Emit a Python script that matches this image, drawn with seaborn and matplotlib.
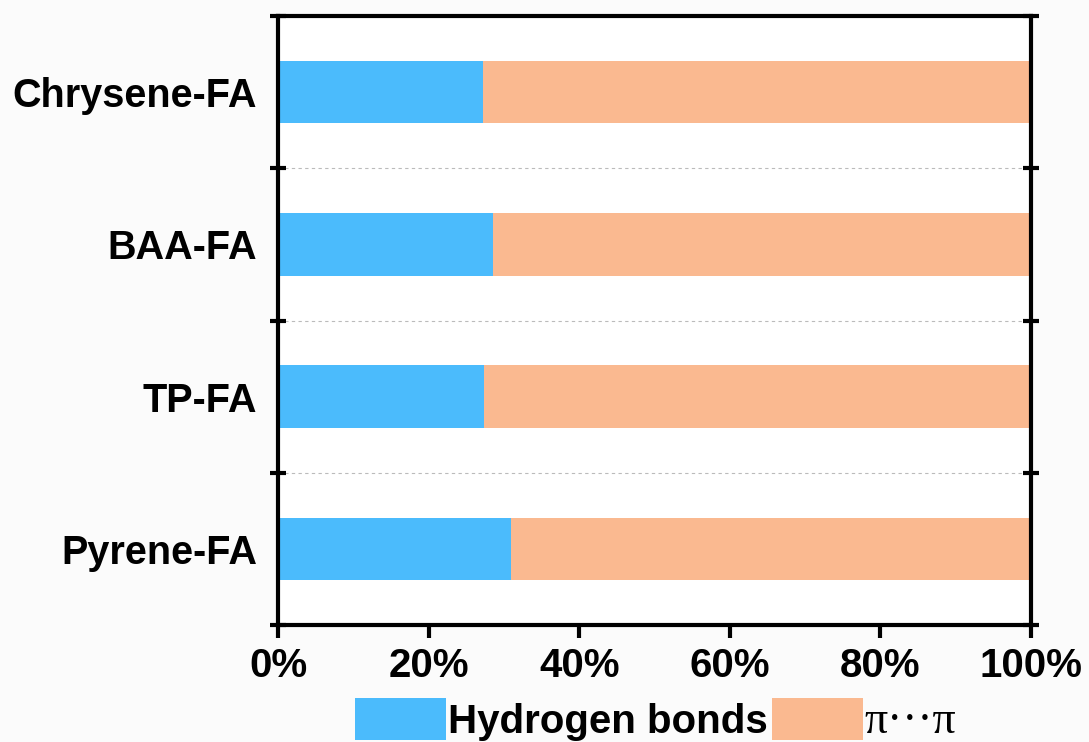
#%% import libraries
import numpy as np
import pandas as pd
import seaborn as sns
import matplotlib.pyplot as plt
from matplotlib.patches import Patch
from matplotlib.ticker import FixedLocator, PercentFormatter

#%% data
systems = ['Chrysene-FA', 'BAA-FA', 'TP-FA', 'Pyrene-FA']
hydrogen_bonds = [27.2, 28.5, 27.4, 30.9]
pi_pi = [72.8, 71.5, 72.6, 69.1]
x_ticks = [0, 20, 40, 60, 80, 100]

blue = '#4BBBFC'
orange = '#FAB990'

df = pd.DataFrame({'system': systems, 'hb': hydrogen_bonds, 'pp': pi_pi})
df['total'] = df['hb'] + df['pp']

#%% plot
sns.set_style('white')
plt.rcParams['font.family'] = ['Liberation Sans', 'DejaVu Sans']
plt.rcParams['font.weight'] = 'bold'
plt.rcParams['text.color'] = 'black'
plt.rcParams['xtick.color'] = 'black'
plt.rcParams['ytick.color'] = 'black'
plt.rcParams['xtick.labelcolor'] = 'black'
plt.rcParams['ytick.labelcolor'] = 'black'

fig = plt.figure(figsize=(10.89, 7.42), dpi=100)
fig.patch.set_facecolor('#FBFBFB')
ax = fig.add_axes([0.2553, 0.1577, 0.6914, 0.8207])
ax.set_facecolor('white')

# stacked: full bar in orange, hydrogen bonds on top of it
sns.barplot(data=df, x='total', y='system', order=systems, orient='h',
            color=orange, width=0.41, saturation=1, linewidth=0, ax=ax)
sns.barplot(data=df, x='hb', y='system', order=systems, orient='h',
            color=blue, width=0.41, saturation=1, linewidth=0, ax=ax)

ax.set_xlim(0, 100)
ax.set_ylim(3.5, -0.5)
ax.set_xlabel('')
ax.set_ylabel('')
ax.xaxis.set_major_locator(FixedLocator(x_ticks))
ax.xaxis.set_major_formatter(PercentFormatter(decimals=0))

# separators between categories
bounds = np.arange(-0.5, len(systems) + 0.5, 1)
ax.yaxis.set_minor_locator(FixedLocator(bounds))
for b in bounds[1:-1]:
    ax.axhline(b, color='#bbbbbb', lw=0.8, ls=(0, (3, 3)), zorder=0)

for s in ax.spines.values():
    s.set_visible(True)
    s.set_linewidth(3)
    s.set_color('black')

ax.tick_params(axis='x', which='major', direction='out', length=9, width=3,
               labelsize=29, pad=7, top=False, bottom=True)
ax.tick_params(axis='y', which='major', length=0, labelsize=28.5, pad=15)
ax.tick_params(axis='y', which='minor', direction='inout', length=12, width=3,
               left=True, right=True)
for lab in ax.get_xticklabels() + ax.get_yticklabels():
    lab.set_fontweight('bold')
    lab.set_color('black')

handles = [Patch(facecolor=blue, edgecolor='none'),
           Patch(facecolor=orange, edgecolor='none')]
leg = fig.legend(handles, ['Hydrogen bonds', 'π···π'], loc='lower left',
                 bbox_to_anchor=(0.326, -0.001), ncol=2, frameon=False,
                 borderpad=0, borderaxespad=0,
                 handlelength=2.25, handleheight=1.25, handletextpad=0.05,
                 columnspacing=0.12, prop={'size': 29, 'weight': 'bold'})
pi_txt = leg.get_texts()[1]
pi_txt.set_fontfamily(['Liberation Serif', 'DejaVu Serif'])
pi_txt.set_fontweight('normal')
pi_txt.set_fontsize(33)
for t in leg.get_texts():
    t.set_color('black')

fig.savefig('out.png', dpi=100, facecolor=fig.get_facecolor())
